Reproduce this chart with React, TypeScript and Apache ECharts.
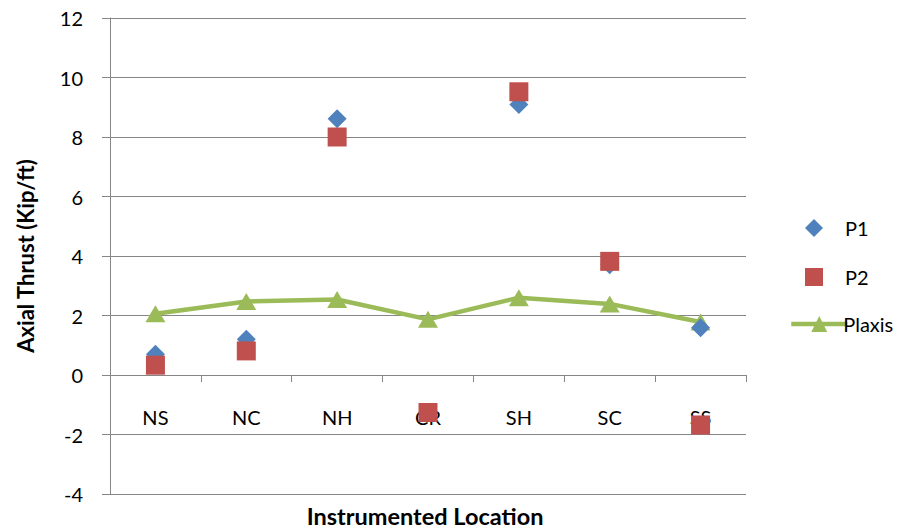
import React, { useEffect, useRef } from "react";
import * as echarts from "echarts";

// Instrumented locations along the liner
const locations = ["NS", "NC", "NH", "CR", "SH", "SC", "SS"];

// Measured axial thrust (kip/ft)
const p1Values = [0.7, 1.2, 8.61, -1.26, 9.09, 3.71, 1.59];
const p2Values = [0.33, 0.81, 8.0, -1.26, 9.52, 3.82, -1.68];

// Plaxis prediction (kip/ft)
const plaxisValues = [2.06, 2.47, 2.54, 1.87, 2.6, 2.39, 1.78];

// Value axis range
const yMin = -4;
const yMax = 12;
const yStep = 2;

const FONT = "Lato, 'Liberation Sans', sans-serif";
const GRID_GREY = "#868686";

const WIDTH = 908;
const HEIGHT = 531;
const GRID = { left: 110, right: 162, top: 18, bottom: 37 };

export default function App() {
  const ref = useRef<HTMLDivElement>(null);

  useEffect(() => {
    if (!ref.current) return;
    const chart = echarts.init(ref.current, undefined, { renderer: "svg" });

    // the category axis crosses the value axis at zero
    const plotHeight = HEIGHT - GRID.top - GRID.bottom;
    const zeroOffset = -(plotHeight * (0 - yMin)) / (yMax - yMin);

    const legendText = { fontFamily: FONT, fontSize: 20, color: "#000" };

    chart.setOption({
      animation: false,
      backgroundColor: "#ffffff",
      textStyle: { fontFamily: FONT },
      grid: { ...GRID, containLabel: false, outerBoundsMode: "none" },
      legend: [
        {
          orient: "vertical",
          left: 800,
          top: 213,
          itemWidth: 18,
          itemHeight: 18,
          itemGap: 29,
          data: ["P1", "P2"],
          textStyle: { ...legendText, padding: [0, 0, 0, 17] },
        },
        {
          orient: "vertical",
          left: 784,
          top: 309,
          itemWidth: 56,
          itemHeight: 20,
          data: ["Plaxis"],
          lineStyle: { width: 4.5 },
          textStyle: { ...legendText, padding: [0, 0, 0, -9] },
        },
      ],
      xAxis: {
        type: "category",
        data: locations,
        boundaryGap: true,
        position: "bottom",
        offset: zeroOffset,
        axisLine: { onZero: false, lineStyle: { color: GRID_GREY, width: 1 } },
        axisTick: { show: true, length: 7, lineStyle: { color: GRID_GREY } },
        axisLabel: { margin: 32, fontSize: 20, color: "#000", fontFamily: FONT },
        splitLine: { show: false },
      },
      yAxis: {
        type: "value",
        min: yMin,
        max: yMax,
        interval: yStep,
        name: "Axial Thrust (Kip/ft)",
        nameLocation: "middle",
        nameGap: 74,
        nameTextStyle: { fontFamily: FONT, fontSize: 22, fontWeight: "bold", color: "#000" },
        axisLine: { show: true, lineStyle: { color: GRID_GREY, width: 1 } },
        axisTick: { show: true, length: 8, lineStyle: { color: GRID_GREY } },
        axisLabel: { margin: 27, fontSize: 20, color: "#000", fontFamily: FONT },
        splitLine: { show: true, lineStyle: { color: GRID_GREY, width: 1 } },
      },
      graphic: [
        {
          type: "text",
          x: 425,
          y: 516,
          style: {
            text: "Instrumented Location",
            fill: "#000",
            font: `bold 23.5px ${FONT}`,
            textAlign: "center",
            textVerticalAlign: "middle",
          },
        },
      ],
      series: [
        {
          name: "Plaxis",
          type: "line",
          data: plaxisValues,
          z: 2,
          symbol: "triangle",
          symbolSize: [20, 17],
          lineStyle: { color: "#9BBB59", width: 4.5 },
          itemStyle: { color: "#9BBB59", opacity: 1 },
        },
        {
          name: "P1",
          type: "scatter",
          data: p1Values,
          z: 3,
          symbol: "diamond",
          symbolSize: 19,
          itemStyle: { color: "#4F81BD", opacity: 1 },
        },
        {
          name: "P2",
          type: "scatter",
          data: p2Values,
          z: 4,
          symbol: "rect",
          symbolSize: 19,
          itemStyle: { color: "#C0504D", opacity: 1 },
        },
      ],
    });

    return () => chart.dispose();
  }, []);

  return (
    <div
      ref={ref}
      style={{ width: WIDTH, height: HEIGHT, position: "absolute", left: 0, top: 0 }}
    />
  );
}
